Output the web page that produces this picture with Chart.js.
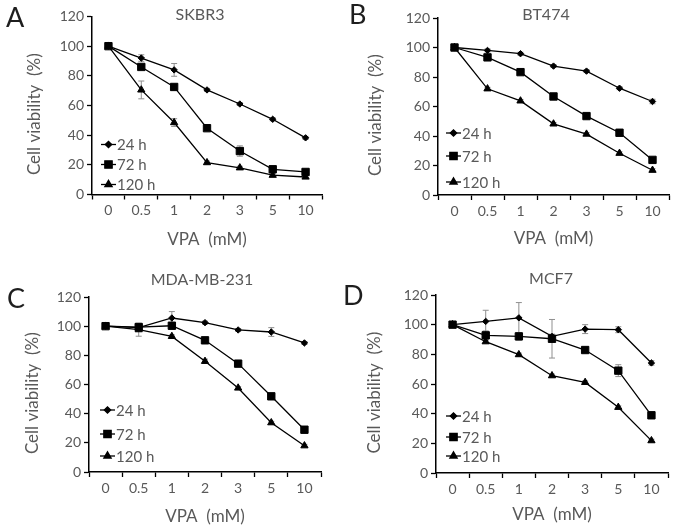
<!DOCTYPE html>
<html>
<head>
<meta charset="utf-8">
<script src="https://cdn.jsdelivr.net/npm/chart.js@4.4.1/dist/chart.umd.min.js"></script>
<style>
  html, body { margin: 0; padding: 0; background: #fff; }
  #wrap { position: relative; width: 677px; height: 527px; }
  canvas { position: absolute; }
</style>
</head>
<body>
<div id="wrap">
  <canvas id="chartA" width="338" height="262" style="left:0;top:0"></canvas>
  <canvas id="chartB" width="339" height="262" style="left:338px;top:0"></canvas>
  <canvas id="chartC" width="338" height="265" style="left:0;top:262px"></canvas>
  <canvas id="chartD" width="339" height="265" style="left:338px;top:262px"></canvas>
</div>
<script>
// doses on the x axis (mM)
const doses = ['0', '0.5', '1', '2', '3', '5', '10'];
const yTicks = [0, 20, 40, 60, 80, 100, 120];
const seriesNames = ['24 h', '72 h', '120 h'];

// SKBR3
const skbr3_24 = [100, 92, 84, 70.5, 61, 50.7, 38.2];
const skbr3_72 = [100, 86, 72.5, 44.7, 29.3, 17, 15.2];
const skbr3_120 = [100, 70.5, 48.5, 21.5, 18, 13, 11.8];
const skbr3_24err = [0, 2.2, 4.3, 1, 1, 1, 1];
const skbr3_72err = [0, 1, 1, 1, 3.5, 1, 1];
const skbr3_120err = [0, 6, 2.6, 1, 1, 1, 1];

// BT474
const bt474_24 = [100, 98, 95.8, 87.4, 84, 72.4, 63.4];
const bt474_72 = [100, 93.3, 83.3, 66.8, 53.5, 42.2, 23.8];
const bt474_120 = [100, 72, 63.8, 48.2, 41.3, 28.3, 16.8];
const bt474_24err = [0, 1, 1, 1, 1, 1, 1.5];
const bt474_72err = [0, 1, 1, 1, 1, 1, 1];
const bt474_120err = [0, 1, 1, 1, 1, 1, 1];

// MDA-MB-231
const mda_24 = [100, 99, 105.6, 102.4, 97.4, 96, 88.5];
const mda_72 = [100, 99.4, 100.3, 90.3, 74.3, 51.9, 29];
const mda_120 = [100, 97.6, 93, 75.9, 57.6, 33.8, 18];
const mda_24err = [0, 2.5, 4.4, 1, 1, 3, 1];
const mda_72err = [0, 1.5, 1, 1.5, 1, 1, 1];
const mda_120err = [0, 4.5, 1, 1.5, 1, 1, 1];

// MCF7
const mcf7_24 = [100, 102.2, 104.6, 92.1, 97, 96.6, 74.2];
const mcf7_72 = [100, 92.8, 92.1, 90.5, 82.9, 69, 38.9];
const mcf7_120 = [100, 88.5, 79.8, 65.6, 61.1, 44.3, 21.8];
const mcf7_24err = [0, 7.5, 10.3, 1.5, 3, 2, 1.5];
const mcf7_72err = [0, 3, 2.5, 13, 1, 4, 1];
const mcf7_120err = [0, 1, 1, 1, 1, 1, 1];

const FONT = "Lato, 'Open Sans', sans-serif";
const GREY = '#595959';

const markers = [
  { pointStyle: 'rectRot', radius: 3.2 },
  { pointStyle: 'rect', radius: 5.2 },
  { pointStyle: 'triangle', radius: 4.2 }
];

// gray error bars, drawn under the lines
const errorBars = {
  id: 'errorBars',
  beforeDatasetsDraw(chart) {
    const { ctx, scales: { x, y } } = chart;
    ctx.save();
    ctx.strokeStyle = '#8f8f8f';
    ctx.lineWidth = 1;
    chart.data.datasets.forEach(ds => {
      ds.errors.forEach((e, j) => {
        if (!e) return;
        const px = x.getPixelForValue(j);
        const t = y.getPixelForValue(ds.data[j] + e);
        const b = y.getPixelForValue(ds.data[j] - e);
        ctx.beginPath();
        ctx.moveTo(px, t); ctx.lineTo(px, b);
        ctx.moveTo(px - 3, t); ctx.lineTo(px + 3, t);
        ctx.moveTo(px - 3, b); ctx.lineTo(px + 3, b);
        ctx.stroke();
      });
    });
    ctx.restore();
  }
};

// panel letter, cell line name and the inset legend
const panelText = {
  id: 'panelText',
  afterDraw(chart, args, o) {
    const { ctx, chartArea } = chart;
    ctx.save();
    ctx.textBaseline = 'middle';
    ctx.fillStyle = '#1e1e1e';
    ctx.font = '27px ' + FONT;
    ctx.textAlign = 'left';
    ctx.fillText(o.letter, o.letterX, o.letterY);
    ctx.fillStyle = GREY;
    ctx.font = '16px ' + FONT;
    ctx.textAlign = 'center';
    ctx.fillText(o.name, o.nameX, o.nameY);

    ctx.font = '15px ' + FONT;
    ctx.textAlign = 'left';
    chart.data.datasets.forEach((ds, i) => {
      const x0 = chartArea.left + o.legX;
      const yy = chartArea.bottom + o.legY[i];
      ctx.strokeStyle = '#000';
      ctx.fillStyle = '#000';
      ctx.lineWidth = 1.3;
      ctx.beginPath();
      ctx.moveTo(x0, yy); ctx.lineTo(x0 + 15, yy);
      ctx.stroke();
      Chart.helpers.drawPoint(ctx, {
        pointStyle: markers[i].pointStyle, rotation: 0,
        radius: markers[i].radius, borderWidth: 1
      }, x0 + 7.5, yy);
      ctx.fillStyle = GREY;
      ctx.fillText(ds.label, x0 + 16, yy + 1);
    });
    ctx.restore();
  }
};

function makePanel(id, p, series, errs) {
  const canvas = document.getElementById(id);
  const W = canvas.width, H = canvas.height;
  new Chart(canvas, {
    type: 'line',
    data: {
      labels: doses,
      datasets: series.map((s, i) => ({
        label: seriesNames[i],
        data: s,
        errors: errs[i],
        borderColor: '#000',
        backgroundColor: '#000',
        borderWidth: 1.3,
        pointStyle: markers[i].pointStyle,
        pointRadius: markers[i].radius,
        pointBackgroundColor: '#000',
        pointBorderColor: '#000',
        pointBorderWidth: 1,
        tension: 0
      }))
    },
    options: {
      responsive: false,
      animation: false,
      events: [],
      layout: { padding: { left: 0, top: p.top, right: W - p.right, bottom: 0 } },
      plugins: {
        legend: { display: false },
        tooltip: { enabled: false },
        panelText: p.text
      },
      scales: {
        x: {
          type: 'category',
          offset: true,
          grid: { offset: true, drawOnChartArea: false, tickLength: 5, tickColor: '#000', tickWidth: 1.3 },
          border: { color: '#000', width: 1.5 },
          ticks: { color: GREY, font: { family: FONT, size: 14 }, padding: 3, maxRotation: 0, autoSkip: false },
          title: { display: true, text: 'VPA  (mM)', color: GREY, font: { family: FONT, size: 17 }, padding: { top: 0, bottom: p.xTitlePad } },
          afterFit: s => { s.height = H - p.bottom; }
        },
        y: {
          min: 0, max: 120,
          afterBuildTicks: s => { s.ticks = yTicks.map(v => ({ value: v })); },
          grid: { drawOnChartArea: false, tickLength: 5, tickColor: '#000', tickWidth: 1.3 },
          border: { color: '#000', width: 1.5 },
          ticks: { color: GREY, font: { family: FONT, size: 14 }, padding: 3 },
          title: { display: true, text: 'Cell viability  (%)\u00a0\u00a0\u00a0\u00a0', color: GREY, font: { family: FONT, size: 17 }, padding: { top: p.yTitlePad, bottom: 0 } },
          afterFit: s => { s.width = p.left; }
        }
      }
    },
    plugins: [errorBars, panelText]
  });
}

makePanel('chartA',
  { left: 92, right: 322, top: 16.5, bottom: 194.5, xTitlePad: 12, yTitlePad: 24,
    text: { letter: 'A', letterX: 6, letterY: 18, name: 'SKBR3', nameX: 200, nameY: 15, legX: 9, legY: [-50, -30, -10] } },
  [skbr3_24, skbr3_72, skbr3_120], [skbr3_24err, skbr3_72err, skbr3_120err]);

makePanel('chartB',
  { left: 100, right: 331, top: 18, bottom: 195, xTitlePad: 13, yTitlePad: 27,
    text: { letter: 'B', letterX: 11, letterY: 15, name: 'BT474', nameX: 208, nameY: 15, legX: 8, legY: [-62, -39, -13] } },
  [bt474_24, bt474_72, bt474_120], [bt474_24err, bt474_72err, bt474_120err]);

makePanel('chartC',
  { left: 89, right: 321, top: 35, bottom: 210, xTitlePad: 0, yTitlePad: 22,
    text: { letter: 'C', letterX: 7, letterY: 37, name: 'MDA-MB-231', nameX: 202, nameY: 18, legX: 11, legY: [-62, -38, -16] } },
  [mda_24, mda_72, mda_120], [mda_24err, mda_72err, mda_120err]);

makePanel('chartD',
  { left: 98, right: 330, top: 33, bottom: 211, xTitlePad: 2.5, yTitlePad: 26,
    text: { letter: 'D', letterX: 5, letterY: 34, name: 'MCF7', nameX: 213, nameY: 17, legX: 10, legY: [-57, -36, -17] } },
  [mcf7_24, mcf7_72, mcf7_120], [mcf7_24err, mcf7_72err, mcf7_120err]);
</script>
</body>
</html>
